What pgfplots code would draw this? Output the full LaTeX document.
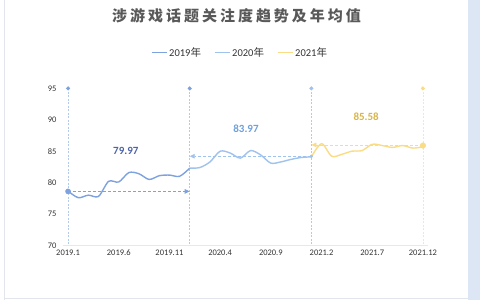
\documentclass[border=0pt]{standalone}
\usepackage{pgfplots}
\pgfplotsset{compat=1.18}
\usepackage{fontspec}
\setmainfont{Carlito}
\newfontfamily\cjk{Noto Sans CJK SC}
\usetikzlibrary{arrows.meta}
\definecolor{c19}{HTML}{7EA2E0}
\definecolor{c20}{HTML}{9FC2EE}
\definecolor{c21}{HTML}{FADC84}
\definecolor{cvl}{HTML}{B4CAEC}
\definecolor{cvly}{HTML}{FCE8A8}
\definecolor{cgrid}{HTML}{E4E8EF}
\definecolor{cstrip}{HTML}{DDE6F5}
\definecolor{cborder}{HTML}{E2E5EC}
\definecolor{ctitle}{HTML}{595959}
\definecolor{ctick}{HTML}{333333}
\definecolor{l19}{HTML}{4D64A8}
\definecolor{l20}{HTML}{6FA0DC}
\definecolor{l21}{HTML}{D9B548}
\begin{document}
\begin{tikzpicture}[x=1pt,y=1pt]
\fill[white] (0,0) rectangle (480,300);
\fill[cstrip] (468,0) rectangle (480,300);
\draw[cborder, line width=0.8pt] (4,0) -- (4,300);
\draw[cborder, line width=0.8pt] (4,2) -- (468,2);
\node[text=ctitle, font=\fontsize{15}{15}\selectfont] at (236.5,285) {\cjk\bfseries\addfontfeature{LetterSpace=20}涉游戏话题关注度趋势及年均值};
\begin{axis}[
  at={(63pt,55pt)}, anchor=south west, scale only axis,
  width=365pt, height=157pt,
  xmin=-0.5, xmax=35.5, ymin=70, ymax=95,
  axis x line=bottom, axis y line=left,
  x axis line style={draw=cgrid, line width=0.8pt, -},
  y axis line style={draw=none, -},
  xtick={0,5,...,35},
  xticklabels={2019.1,2019.6,2019.11,2020.4,2020.9,2021.2,2021.7,2021.12},
  ytick={70,75,...,95},
  major tick length=0pt,
  tick style={draw=none},
  x tick label style={font=\fontsize{8.5}{9}\selectfont, text=ctick, yshift=-1pt},
  y tick label style={font=\fontsize{8.5}{9}\selectfont, text=ctick, xshift=-3pt},
  /pgf/number format/assume math mode=true,
  clip=false,
  legend style={at={(0.485,1.229)}, anchor=center, draw=none, fill=none,
    font=\fontsize{10.5}{10.5}\selectfont, text=ctick,
    /tikz/every even column/.append style={column sep=11pt}},
  legend columns=3,
  legend image code/.code={\draw[#1, line width=1.2pt] (0pt,0pt) -- (15pt,0pt);},
]
% vertical dashed year lines
\addplot[forget plot, cvl, line width=0.8pt, dash pattern=on 2pt off 1.5pt, mark=*, mark size=1.6pt, mark indices={1}, mark options={solid, fill=c19, draw=c19}] coordinates {(0,95) (0,70)};
\addplot[forget plot, cvl, line width=0.8pt, dash pattern=on 2pt off 1.5pt, mark=*, mark size=1.6pt, mark indices={1}, mark options={solid, fill=c19, draw=c19}] coordinates {(12,95) (12,70)};
\addplot[forget plot, cvl, line width=0.8pt, dash pattern=on 2pt off 1.5pt, mark=*, mark size=1.6pt, mark indices={1}, mark options={solid, fill=c20, draw=c20}] coordinates {(24,95) (24,70)};
\addplot[forget plot, cvly, line width=0.8pt, dash pattern=on 2pt off 1.5pt, mark=*, mark size=1.6pt, mark indices={1}, mark options={solid, fill=c21, draw=c21}] coordinates {(35,95) (35,70)};
% mean mark lines
\addplot[forget plot, c19, line width=0.8pt, dash pattern=on 3pt off 2pt, -{Triangle[length=5pt,width=4.5pt]}] coordinates {(0,78.6) (12,78.6)};
\addplot[forget plot, c20, line width=0.8pt, dash pattern=on 3pt off 2pt, -{Triangle[length=5pt,width=4.5pt]}] coordinates {(24,84.2) (12,84.2)};
\addplot[forget plot, c21, line width=0.8pt, dash pattern=on 3pt off 2pt, -{Triangle[length=5pt,width=4.5pt]}] coordinates {(35,86.0) (24,86.0)};
% series
\addplot[c19, line width=1.4pt, smooth, tension=0.5, no marks] coordinates {
 (0,78.65) (1,77.6) (2,78.0) (3,77.8) (4,80.2) (5,80.1) (6,81.6) (7,81.4)
 (8,80.5) (9,81.1) (10,81.2) (11,81.0) (12,82.3)};
\addlegendentry{2019{\cjk 年}}
\addplot[c20, line width=1.4pt, smooth, tension=0.5, no marks] coordinates {
 (12,82.3) (13,82.4) (14,83.3) (15,85.0) (16,84.7) (17,83.9) (18,85.1) (19,84.4)
 (20,83.1) (21,83.3) (22,83.7) (23,84.0) (24,84.1)};
\addlegendentry{2020{\cjk 年}}
\addplot[c21, line width=1.4pt, smooth, tension=0.5, no marks] coordinates {
 (24,84.1) (25,86.2) (26,84.2) (27,84.5) (28,85.0) (29,85.1) (30,86.1) (31,85.9)
 (32,85.6) (33,85.9) (34,85.5) (35,85.7)};
\addlegendentry{2021{\cjk 年}}
% endpoint markers of mark lines
\addplot[forget plot, only marks, mark=*, mark size=2.6pt, c19] coordinates {(0,78.6)};
\addplot[forget plot, only marks, mark=*, mark size=1.4pt, c20] coordinates {(24,84.2)};
\addplot[forget plot, only marks, mark=*, mark size=2.8pt, c21] coordinates {(35,85.9)};
% mean value labels
\node[font=\bfseries\fontsize{11}{11}\selectfont, text=l19] at (axis cs:5.7,85.1) {79.97};
\node[font=\bfseries\fontsize{11}{11}\selectfont, text=l20] at (axis cs:17.55,88.6) {83.97};
\node[font=\bfseries\fontsize{11}{11}\selectfont, text=l21] at (axis cs:29.4,90.5) {85.58};
\end{axis}
\end{tikzpicture}
\end{document}
